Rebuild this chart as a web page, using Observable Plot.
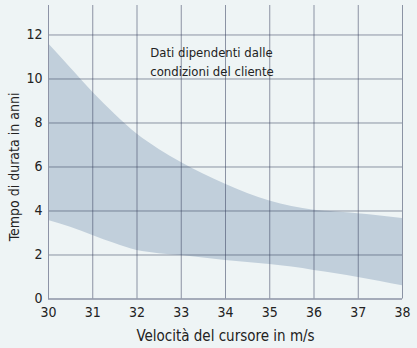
<!DOCTYPE html>
<html>
<head>
<meta charset="utf-8">
<script src="https://cdn.jsdelivr.net/npm/d3@7"></script>
<script src="https://cdn.jsdelivr.net/npm/@observablehq/plot@0.6"></script>
<style>
  html, body { margin: 0; padding: 0; background: #eef4f5; }
  #chart { width: 417px; height: 348px; }
</style>
</head>
<body>
<div id="chart"></div>
<script>
const speed = [30, 30.5, 31, 31.5, 32, 32.5, 33, 33.5, 34, 34.5, 35, 35.5, 36, 36.5, 37, 37.5, 38];
const upperYears = [11.6, 10.5, 9.4, 8.4, 7.5, 6.8, 6.2, 5.68, 5.22, 4.8, 4.45, 4.2, 4.03, 3.95, 3.87, 3.77, 3.66];
const lowerYears = [3.57, 3.26, 2.89, 2.52, 2.2, 2.06, 1.98, 1.86, 1.75, 1.66, 1.57, 1.45, 1.3, 1.15, 0.98, 0.8, 0.6];
const xTicks = [30, 31, 32, 33, 34, 35, 36, 37, 38];
const yTicks = [0, 2, 4, 6, 8, 10, 12];
const xTitle = "Velocità del cursore in m/s";
const yTitle = "Tempo di durata in anni";
const noteLines = ["Dati dipendenti dalle", "condizioni del cliente"];

const band = speed.map((s, i) => ({s, lo: lowerYears[i], hi: upperYears[i]}));
const yTop = 13.34;
const font = "'Liberation Sans Narrow', 'DejaVu Sans Condensed', 'Liberation Sans', sans-serif";

const chart = Plot.plot({
  width: 417,
  height: 348,
  marginLeft: 48,
  marginRight: 15,
  marginTop: 5,
  marginBottom: 49.5,
  style: {background: "#eef4f5", fontFamily: font, fontSize: "14px", color: "#222"},
  x: {domain: [30, 38]},
  y: {domain: [0, yTop]},
  marks: [
    Plot.areaY(band, {x: "s", y1: "lo", y2: "hi", fill: "#c1cfdb", curve: "monotone-x"}),
    Plot.ruleX(xTicks, {y1: 0, y2: yTop, stroke: "#3a4360", strokeOpacity: 0.55}),
    Plot.ruleY(yTicks, {x1: 30, x2: 38, stroke: "#3a4360", strokeOpacity: 0.55}),
    Plot.ruleY([0], {stroke: "#8d93a6"}),
    Plot.ruleX([30], {y1: 0, y2: yTop, stroke: "#8d93a6"}),
    Plot.axisX(xTicks, {tickSize: 0, tickPadding: 8, label: null, fontSize: 14, tickFormat: d => String(d)}),
    Plot.axisY(yTicks, {tickSize: 0, tickPadding: 6, label: null, fontSize: 14, tickFormat: d => String(d)}),
    Plot.text([xTitle], {frameAnchor: "bottom", dy: 42, fontSize: 15, fill: "#222"}),
    Plot.text([yTitle], {x: 30, y: 6, dx: -34, rotate: -90, fontSize: 14, fill: "#222"}),
    Plot.text(noteLines, {x: 32.3, y: (d, i) => 11.2 - i * 0.86, textAnchor: "start", fontSize: 13, fill: "#222"})
  ]
});
document.getElementById("chart").appendChild(chart);
</script>
</body>
</html>
